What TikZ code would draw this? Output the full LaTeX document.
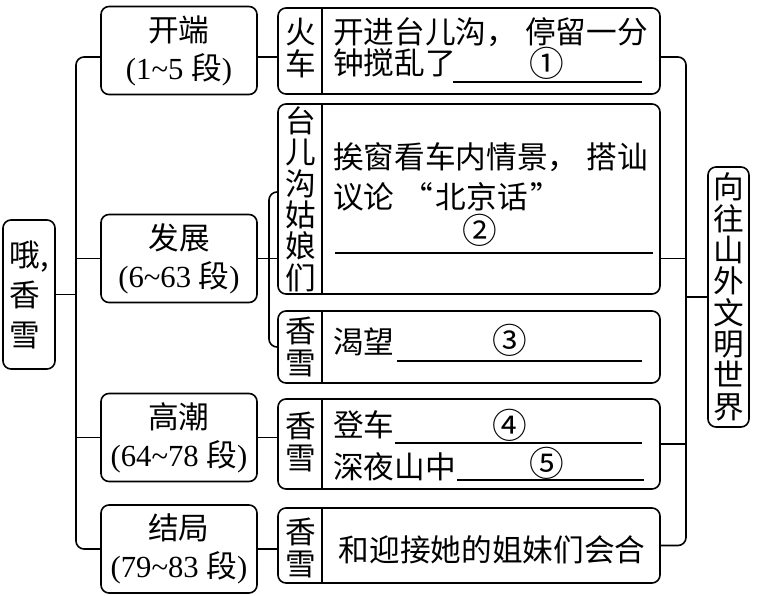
\documentclass[tikz,border=0pt]{standalone}
\usepackage{fontspec}
\setmainfont{Liberation Serif}
\newfontfamily\cjk{Noto Sans CJK SC}
\newcommand\duan[2]{{\rmfamily(#1\textasciitilde#2 }段{\rmfamily)}}

\begin{document}
\begin{tikzpicture}[x=0.75pt, y=-0.75pt,
    every node/.style={font=\cjk\fontsize{23}{24}\selectfont},
    box/.style={draw, line width=1.2pt, rounded corners=6pt, inner sep=0pt},
    stage/.style={box, minimum width=117pt, minimum height=66pt, align=center,
        font=\cjk\fontsize{23}{28.5}\selectfont},
    panel/.style={box, minimum width=286.5pt},
    vtext/.style={align=center, inner sep=0pt, font=\cjk\fontsize{23}{23.5}\selectfont},
    txt/.style={anchor=west, inner sep=0pt},
    num/.style={font=\cjk\fontsize{26}{26}\selectfont},
    link/.style={line width=1.2pt, rounded corners=6pt},
    blank/.style={line width=0.8pt}]
    \useasboundingbox (0,0) rectangle (758,596);

    \node[box, minimum width=39pt, minimum height=111.75pt, align=left,
        font=\cjk\fontsize{23}{30}\selectfont] (root) at (29,294.5) {哦,\\香\\雪};

    \node[stage] (s1) at (179,50.5)  {开端\\\duan{1}{5}};
    \node[stage] (s2) at (179,258.5) {发展\\\duan{6}{63}};
    \node[stage] (s3) at (179,437.5) {高潮\\\duan{64}{78}};
    \node[stage] (s4) at (179,549)   {结局\\\duan{79}{83}};

    \node[panel, minimum height=64.5pt]  (b1) at (469,51)    {};
    \node[panel, minimum height=142.5pt] (b2) at (469,199)   {};
    \node[panel, minimum height=54pt]    (b3) at (469,347)   {};
    \node[panel, minimum height=67.5pt]  (b4) at (469,444)   {};
    \node[panel, minimum height=56.25pt] (b5) at (469,545.5) {};
    \foreach \b in {b1,b2,b3,b4,b5}
        \draw[line width=1.2pt] ([xshift=33.75pt]\b.north west) -- ([xshift=33.75pt]\b.south west);

    \node[box, vtext, minimum width=30.75pt, minimum height=195pt] (goal) at (728.5,297)
        {向\\往\\山\\外\\文\\明\\世\\界};

    \node[vtext] (who1) at (300.5,48)  {火\\车};
    \node[vtext] (who2) at (300.5,199) {台\\儿\\沟\\姑\\娘\\们};
    \node[vtext] (who3) at (300.5,347) {香\\雪};
    \node[vtext] (who4) at (300.5,442) {香\\雪};
    \node[vtext] (who5) at (300.5,548) {香\\雪};

    \node[txt] (t11) at (333,32)  {开进台儿沟，\hspace{6pt}停留一分};
    \node[txt] (t12) at (333,63)  {钟搅乱了};
    \node[num] (n1) at (547,63) {①};
    \draw[blank] (453,82) -- (642,82);

    \node[txt] (t21) at (333,157) {挨窗看车内情景，\hspace{6pt}搭讪};
    \node[txt] (t22) at (333,197) {议论\hspace{6pt}“\hspace{2pt}北京话\hspace{2pt}”};
    \node[num] (n2) at (480,230) {②};
    \draw[blank] (335,253) -- (653,253);

    \node[txt] (t3) at (333,342) {渴望};
    \node[num] (n3) at (510,340) {③};
    \draw[blank] (397,361) -- (642,361);

    \node[txt] (t41) at (333,425) {登车};
    \node[num] (n4) at (510,425) {④};
    \draw[blank] (395,443) -- (642,443);
    \node[txt] (t42) at (333,467) {深夜山中};
    \node[num] (n5) at (547,463) {⑤};
    \draw[blank] (457,480) -- (644,480);

    \node (t5) at (492,550) {和迎接她的姐妹们会合};

    \coordinate (trunk) at (76,0);
    \coordinate (fork) at (269,192);
    \coordinate (bar) at (686,0);
    \coordinate (row1) at (0,57);

    \draw[link] (root.east) -- (root.east -| trunk);
    \draw[link] (s1.west |- row1) -- (row1 -| trunk) -- (s4.west -| trunk) -- (s4.west);
    \draw[link] (s2.west) -- (s2.west -| trunk);
    \draw[link] (s3.west) -- (s3.west -| trunk);

    \draw[link] (s1.east |- row1) -- (b1.west |- row1);
    \draw[link] (s2.east) -- (s2.east -| b2.west);
    \draw[link] (fork -| b2.west) -- (fork) -- (fork |- b3.west) -- (b3.west);
    \draw[link] (s3.east) -- (s3.east -| b4.west);
    \draw[link] (s4.east) -- (s4.east -| b5.west);

    \draw[link] (b1.east |- row1) -- (row1 -| bar) -- (b5.east -| bar) -- (b5.east);
    \draw[link] (b2.east |- s2.east) -- (s2.east -| bar);
    \draw[link] (b4.east) -- (b4.east -| bar);
    \draw[link] (goal.west) -- (goal.west -| bar);
\end{tikzpicture}
\end{document}
